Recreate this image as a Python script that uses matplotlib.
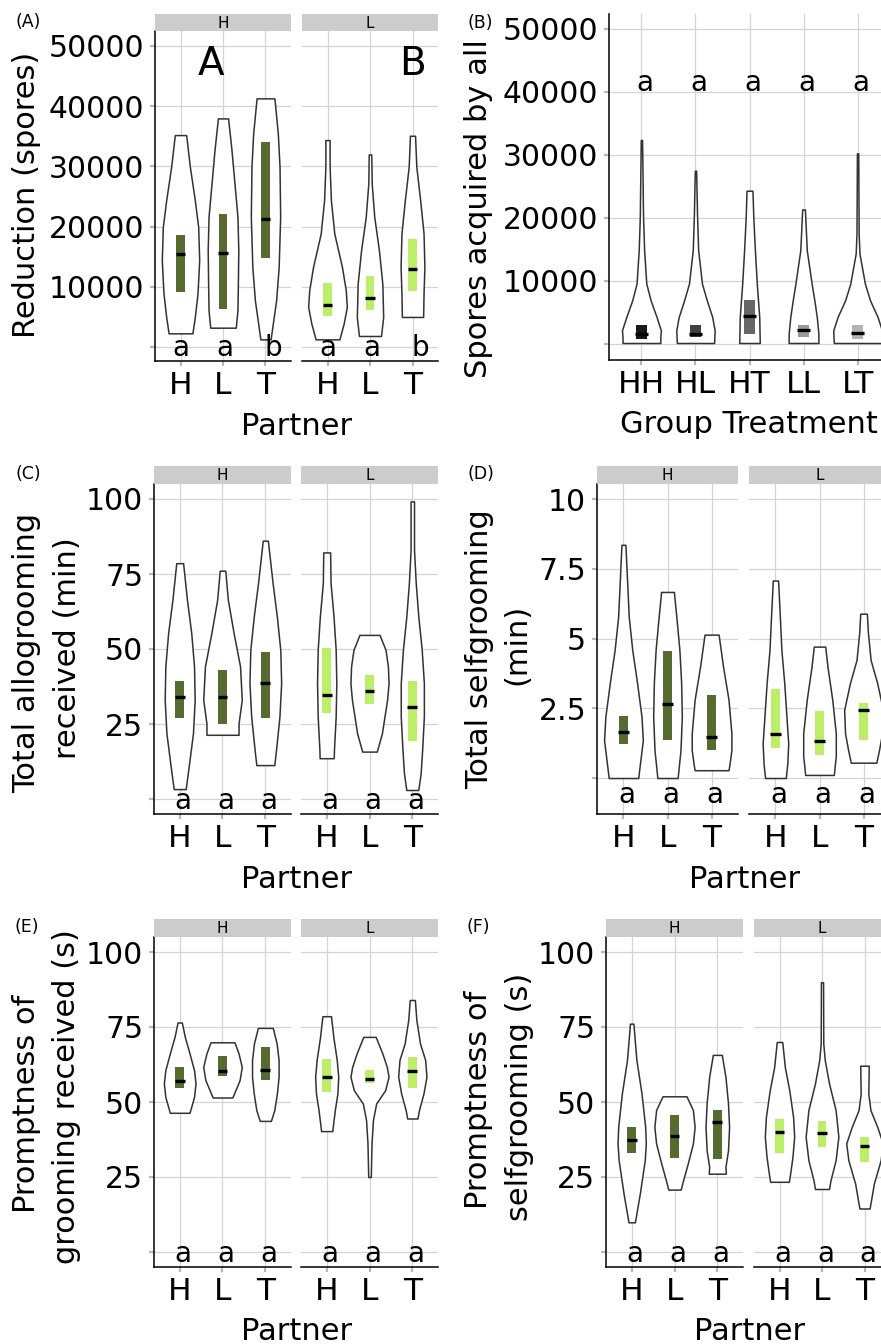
import numpy as np
import matplotlib
matplotlib.use("Agg")
import matplotlib.pyplot as plt

plt.rcParams['font.family'] = ['DejaVu Sans']

# ---------------- data ----------------
partners = ["H", "L", "T"]
groups = ["HH", "HL", "HT", "LL", "LT"]

# (A) Reduction (spores): violin outlines (value, half-width)
A_H_ys = [[2270, 4990, 8870, 14410, 19950, 24390, 29930, 35200],
          [3210, 6100, 10530, 16070, 21620, 27160, 32700, 37970],
          [1270, 7760, 13300, 21620, 29930, 35480, 41300]]
A_H_ws = [[0.28, 0.337, 0.40, 0.44, 0.416, 0.337, 0.22, 0.134],
          [0.30, 0.34, 0.35, 0.36, 0.34, 0.27, 0.20, 0.12],
          [0.12, 0.25, 0.31, 0.345, 0.33, 0.29, 0.21]]
A_H_q1 = [9150, 6260, 14800]
A_H_med = [15520, 15690, 21340]
A_H_q3 = [18570, 22060, 33980]
A_L_ys = [[1270, 3880, 6650, 9420, 13300, 18850, 24390, 29930, 34370],
          [1830, 4990, 10530, 16070, 21620, 27160, 31980],
          [4990, 8870, 13300, 18850, 24390, 29930, 35090]]
A_L_ws = [[0.28, 0.38, 0.455, 0.43, 0.34, 0.16, 0.08, 0.05, 0.05],
          [0.26, 0.31, 0.29, 0.21, 0.10, 0.04, 0.03],
          [0.25, 0.26, 0.28, 0.26, 0.18, 0.09, 0.06]]
A_L_q1 = [5150, 6100, 9260]
A_L_med = [7040, 8200, 12970]
A_L_q3 = [10700, 11750, 17900]
A_letters = ["a", "a", "b"]

# (B) Spores acquired by all
B_ys = [[160, 1110, 2170, 4290, 6940, 9590, 14890, 20190, 32380],
        [160, 2170, 4290, 6940, 9590, 14890, 20190, 27510],
        [160, 4290, 9590, 14890, 20190, 24330],
        [160, 1640, 4290, 6940, 9590, 14890, 21360],
        [160, 1110, 2170, 4290, 6940, 9590, 14360, 17540, 30260]]
B_ws = [[0.35, 0.35, 0.36, 0.28, 0.17, 0.09, 0.05, 0.03, 0.012],
        [0.345, 0.355, 0.31, 0.21, 0.12, 0.05, 0.03, 0.012],
        [0.19, 0.18, 0.135, 0.10, 0.07, 0.055],
        [0.276, 0.275, 0.245, 0.20, 0.15, 0.06, 0.025],
        [0.44, 0.445, 0.45, 0.37, 0.23, 0.135, 0.035, 0.02, 0.012]]
B_q1 = [740, 1110, 1640, 1110, 740]
B_med = [1640, 1640, 4400, 2280, 1750]
B_q3 = [2970, 2970, 6940, 2970, 2970]
B_letters = ["a", "a", "a", "a", "a"]

# (C) Total allogrooming received (min)
C_H_ys = [[3.3, 10.8, 21.9, 33, 44.2, 55.3, 66.4, 78.6],
          [21.4, 25.2, 33, 44.2, 55.3, 66.4, 76.1],
          [11.3, 16.4, 27.5, 38.6, 49.7, 60.8, 72, 86.1]]
C_H_ws = [[0.14, 0.21, 0.31, 0.35, 0.335, 0.27, 0.17, 0.08],
          [0.375, 0.375, 0.45, 0.41, 0.26, 0.125, 0.065],
          [0.21, 0.25, 0.33, 0.37, 0.35, 0.27, 0.17, 0.06]]
C_H_q1 = [27.1, 25, 27.1]
C_H_med = [34.1, 33.9, 38.8]
C_H_q3 = [39.4, 43, 49.1]
C_L_ys = [[13.6, 16.4, 27.5, 38.6, 49.7, 60.8, 72, 82.2],
          [15.8, 21.9, 27.5, 33, 38.6, 44.2, 49.7, 54.7],
          [3, 8.6, 16.4, 27.5, 38.6, 49.7, 60.8, 72, 83.1, 99.2]]
C_L_ws = [[0.165, 0.17, 0.21, 0.225, 0.21, 0.16, 0.09, 0.08],
          [0.17, 0.29, 0.35, 0.41, 0.445, 0.43, 0.375, 0.235],
          [0.14, 0.195, 0.23, 0.27, 0.27, 0.22, 0.14, 0.08, 0.04, 0.04]]
C_L_q1 = [28.8, 31.7, 19.5]
C_L_med = [34.6, 36, 30.8]
C_L_q3 = [50.4, 41.3, 39.4]

# (D) Total selfgrooming (min)
D_H_ys = [[0, 0.65, 1.36, 2.2, 3.4, 4.59, 5.79, 6.99, 8.36],
          [0, 1.0, 2.2, 3.4, 4.59, 5.79, 6.67],
          [0.28, 0.53, 1.0, 1.6, 2.8, 4.0, 5.14]]
D_H_ws = [[0.335, 0.385, 0.44, 0.41, 0.31, 0.2, 0.12, 0.085, 0.045],
          [0.23, 0.295, 0.325, 0.31, 0.27, 0.2, 0.145],
          [0.385, 0.41, 0.45, 0.45, 0.385, 0.26, 0.16]]
D_H_q1 = [1.22, 1.36, 1.0]
D_H_med = [1.65, 2.66, 1.46]
D_H_q3 = [2.22, 4.56, 2.98]
D_L_ys = [[0, 0.53, 1.24, 2.2, 3.4, 4.59, 5.79, 7.08],
          [0.11, 0.5, 0.77, 1.6, 2.8, 4.0, 4.71],
          [0.55, 1.0, 1.6, 2.44, 3.4, 4.23, 5.19, 5.89]]
D_L_ws = [[0.235, 0.27, 0.29, 0.25, 0.2, 0.135, 0.1, 0.06],
          [0.325, 0.35, 0.37, 0.37, 0.29, 0.18, 0.13],
          [0.29, 0.35, 0.42, 0.44, 0.31, 0.16, 0.1, 0.075]]
D_L_q1 = [1.09, 0.83, 1.36]
D_L_med = [1.57, 1.34, 2.44]
D_L_q3 = [3.19, 2.4, 2.68]

# (E) Promptness of grooming received (s)
E_H_ys = [[46.4, 51.7, 56.2, 60.6, 66.2, 71.7, 76.5],
          [51.5, 53.9, 57.3, 61.7, 66.2, 69.9],
          [43.7, 47.3, 52.8, 58.4, 64, 69.5, 74.7]]
E_H_ws = [[0.23, 0.335, 0.37, 0.335, 0.23, 0.12, 0.05],
          [0.23, 0.3, 0.4, 0.45, 0.375, 0.28],
          [0.13, 0.21, 0.27, 0.31, 0.31, 0.265, 0.175]]
E_H_q1 = [54.7, 58.7, 57.4]
E_H_med = [57.1, 60.5, 60.8]
E_H_q3 = [61.6, 65.5, 68.3]
E_L_ys = [[40.3, 47.3, 52.8, 58.4, 64, 71.7, 78.6],
          [25, 36.2, 43.9, 49.5, 53.9, 58.4, 61.7, 66.2, 71.7],
          [44.5, 47.3, 52.8, 58.4, 64, 69.5, 77.3, 84]]
E_L_ws = [[0.13, 0.19, 0.25, 0.27, 0.235, 0.155, 0.1],
          [0.03, 0.047, 0.08, 0.155, 0.365, 0.445, 0.405, 0.3, 0.145],
          [0.12, 0.155, 0.26, 0.33, 0.3, 0.18, 0.095, 0.06]]
E_L_q1 = [53.4, 56.4, 54.7]
E_L_med = [58.3, 57.8, 60.3]
E_L_q3 = [64.2, 60.8, 65]

# (F) Promptness of selfgrooming (s)
F_H_ys = [[9.9, 19.5, 30.6, 36.2, 41.7, 52.8, 64, 76.1],
          [20.8, 23.9, 29.5, 36.2, 41.7, 47.3, 51.9],
          [26.1, 28.4, 33.9, 41.7, 49.5, 58.4, 65.7]]
F_H_ws = [[0.075, 0.19, 0.305, 0.33, 0.315, 0.23, 0.11, 0.04],
          [0.145, 0.2, 0.31, 0.43, 0.47, 0.43, 0.28],
          [0.2, 0.19, 0.25, 0.275, 0.25, 0.19, 0.105]]
F_H_q1 = [33, 31.4, 31]
F_H_med = [37.2, 38.6, 43.2]
F_H_q3 = [41.6, 45.6, 47.2]
F_L_ys = [[23.4, 26.1, 31.7, 38.4, 45, 53.9, 61.7, 70],
          [21, 23.9, 30.6, 38.4, 47.3, 56.2, 64, 69.5, 89.9],
          [14.5, 22.8, 30.6, 36.2, 41.7, 47.3, 52.8, 62.1]]
F_L_ws = [[0.22, 0.25, 0.305, 0.345, 0.32, 0.23, 0.125, 0.065],
          [0.165, 0.2, 0.32, 0.385, 0.32, 0.165, 0.065, 0.03, 0.025],
          [0.12, 0.22, 0.38, 0.43, 0.3, 0.14, 0.09, 0.1]]
F_L_q1 = [33, 34.9, 30]
F_L_med = [40, 39.6, 35.4]
F_L_q3 = [44.5, 43.6, 38.2]

sig_letters = ["a", "a", "a"]

# ---------------- style ----------------
DARK = "#556B2F"
LIGHT = "#BCEE68"
GRAYS = ["#1A1A1A", "#404040", "#666666", "#999999", "#B3B3B3"]
GRID = "#D4D4D4"
TICKC = "#B8B8B8"
STRIP = "#CCCCCC"
FS_Y = 21.5
FS_X = 22.5
FS_T = 22
W, H = 881, 1344

fig = plt.figure(figsize=(W / 100, H / 100), dpi=100)


def add_ax(x0, x1, y0, y1):
    return fig.add_axes([x0 / W, 1 - y1 / H, (x1 - x0) / W, (y1 - y0) / H])


def strip(x0, x1, y0, y1, label):
    s = add_ax(x0, x1, y0, y1)
    s.set_facecolor(STRIP)
    s.set_xticks([]); s.set_yticks([])
    for sp in s.spines.values():
        sp.set_visible(False)
    s.text(0.5, 0.45, label, transform=s.transAxes, ha="center", va="center", fontsize=11)


def facet(ax, ys_list, ws_list, q1, med, q3, colors, letters, letter_y, letter_dx,
          ylim, yticks, yticklabels, show_y, ticklabels):
    n = len(ys_list)
    pos = np.arange(1, n + 1)
    stats = []
    for ys, ws, m in zip(ys_list, ws_list, med):
        stats.append(dict(coords=np.array(ys, float), vals=np.array(ws, float),
                          mean=m, median=m, min=ys[0], max=ys[-1]))
    widths = [2 * max(ws) for ws in ws_list]
    parts = ax.violin(stats, positions=pos, widths=widths, showmeans=False,
                      showextrema=False, showmedians=False)
    for b in parts["bodies"]:
        b.set_facecolor("white")
        b.set_edgecolor("#333333")
        b.set_alpha(1)
        b.set_linewidth(1.1)
        b.set_joinstyle("round")
        b.set_zorder(2)
    ax.bar(pos, np.array(q3) - np.array(q1), bottom=q1, width=0.2, color=colors, zorder=3)
    ax.hlines(med, pos - 0.115, pos + 0.115, color="black", lw=2.4, zorder=4)
    for p, lab, dx in zip(pos, letters, letter_dx):
        ax.text(p + dx, letter_y, lab, ha="center", va="center", fontsize=20, zorder=5)
    ax.set_xlim(0.4, n + 0.6)
    ax.set_ylim(*ylim)
    ax.set_xticks(pos)
    ax.set_xticklabels(ticklabels, fontsize=FS_X)
    ax.set_yticks(yticks)
    ax.grid(True, color=GRID, lw=0.9)
    ax.set_axisbelow(True)
    ax.tick_params(axis="x", length=3.8, width=1.6, color=TICKC, pad=3.2)
    if show_y:
        ax.set_yticklabels(yticklabels, fontsize=FS_Y)
        ax.tick_params(axis="y", length=3.8, width=1.6, color=TICKC, pad=4)
    else:
        ax.tick_params(axis="y", length=0, labelleft=False)
    ax.spines["top"].set_visible(False)
    ax.spines["right"].set_visible(False)
    ax.spines["left"].set_visible(show_y)
    for sp in ("left", "bottom"):
        ax.spines[sp].set_linewidth(1.1)
        ax.spines[sp].set_color("black")
    ax.set_facecolor("none")


# ---- (A) ----
yt_A = [0, 10000, 20000, 30000, 40000, 50000]
yl_A = ["", "10000", "20000", "30000", "40000", "50000"]
ylim_A = (-2326, 52490)
for (x0, x1), lab, ys, ws, q1, md, q3, col in [
        ((155, 291), "H", A_H_ys, A_H_ws, A_H_q1, A_H_med, A_H_q3, DARK),
        ((302, 438), "L", A_L_ys, A_L_ws, A_L_q1, A_L_med, A_L_q3, LIGHT)]:
    ax = add_ax(x0, x1, 31, 361)
    facet(ax, ys, ws, q1, md, q3, col, A_letters, -170, [0.02, 0.05, 0.19],
          ylim_A, yt_A, yl_A, lab == "H", partners)
    strip(x0, x1, 14, 31, lab)
    if lab == "H":
        ax.text(1.72, 47000, "A", ha="center", va="center", fontsize=28)
    else:
        ax.text(3.0, 47000, "B", ha="center", va="center", fontsize=28)

# ---- (B) ----
axB = add_ax(609, 890, 14, 360)
facet(axB, B_ys, B_ws, B_q1, B_med, B_q3, GRAYS, B_letters, 41500, [0.07] * 5,
      (-2540, 52380), yt_A, ["", "10000", "20000", "30000", "40000", "50000"], True, groups)

# ---- (C) ----
yt_C = [0, 25, 50, 75, 100]
yl_C = ["", "25", "50", "75", "100"]
for (x0, x1), lab, ys, ws, q1, md, q3, col in [
        ((154, 291), "H", C_H_ys, C_H_ws, C_H_q1, C_H_med, C_H_q3, DARK),
        ((301, 438), "L", C_L_ys, C_L_ws, C_L_q1, C_L_med, C_L_q3, LIGHT)]:
    ax = add_ax(x0, x1, 484, 814)
    facet(ax, ys, ws, q1, md, q3, col, sig_letters, -0.7, [0.08] * 3,
          (-5, 105), yt_C, yl_C, lab == "H", partners)
    strip(x0, x1, 466, 484, lab)

# ---- (D) ----
yt_D = [0, 2.5, 5, 7.5, 10]
yl_D = ["", "2.5", "5", "7.5", "10"]
for (x0, x1), lab, ys, ws, q1, md, q3, col in [
        ((597, 738), "H", D_H_ys, D_H_ws, D_H_q1, D_H_med, D_H_q3, DARK),
        ((749, 890), "L", D_L_ys, D_L_ws, D_L_q1, D_L_med, D_L_q3, LIGHT)]:
    ax = add_ax(x0, x1, 484, 814)
    facet(ax, ys, ws, q1, md, q3, col, sig_letters, -0.6, [0.08] * 3,
          (-1.29, 10.54), yt_D, yl_D, lab == "H", partners)
    strip(x0, x1, 466, 484, lab)

# ---- (E) ----
for (x0, x1), lab, ys, ws, q1, md, q3, col in [
        ((154, 291), "H", E_H_ys, E_H_ws, E_H_q1, E_H_med, E_H_q3, DARK),
        ((301, 438), "L", E_L_ys, E_L_ws, E_L_q1, E_L_med, E_L_q3, LIGHT)]:
    ax = add_ax(x0, x1, 937, 1267)
    facet(ax, ys, ws, q1, md, q3, col, sig_letters, -0.6, [0.08] * 3,
          (-5, 105), yt_C, yl_C, lab == "H", partners)
    strip(x0, x1, 919, 937, lab)

# ---- (F) ----
for (x0, x1), lab, ys, ws, q1, md, q3, col in [
        ((606, 743), "H", F_H_ys, F_H_ws, F_H_q1, F_H_med, F_H_q3, DARK),
        ((754, 890), "L", F_L_ys, F_L_ws, F_L_q1, F_L_med, F_L_q3, LIGHT)]:
    ax = add_ax(x0, x1, 937, 1267)
    facet(ax, ys, ws, q1, md, q3, col, sig_letters, -0.8, [0.08] * 3,
          (-5, 105), yt_C, yl_C, lab == "H", partners)
    strip(x0, x1, 919, 937, lab)


# ---- labels ----
def ftext(x, y, s, **kw):
    fig.text(x / W, 1 - y / H, s, **kw)


for tag, (x, y) in zip(["(A)", "(B)", "(C)", "(D)", "(E)", "(F)"],
                       [(28, 22), (480, 23), (28, 474), (481, 474), (27, 927), (478, 927)]):
    ftext(x, y, tag, ha="center", va="center", fontsize=12.5)

ylabel_lines = [
    ("Reduction (spores)", 27, 195),
    ("Spores acquired by all", 479, 209),
    ("Total allogrooming", 27, 653),
    ("received (min)", 67, 648),
    ("Total selfgrooming", 480, 649),
    ("(min)", 517, 644),
    ("Promptness of", 27, 1104),
    ("grooming received (s)", 67, 1097),
    ("Promptness of", 479, 1100),
    ("selfgrooming (s)", 519, 1097),
]
for s, x, y in ylabel_lines:
    ftext(x, y, s, rotation=90, ha="center", va="center", fontsize=FS_T)

ftext(297, 435, "Partner", ha="center", va="baseline", fontsize=FS_T)
ftext(749, 433, "Group Treatment", ha="center", va="baseline", fontsize=FS_T)
ftext(297, 888, "Partner", ha="center", va="baseline", fontsize=FS_T)
ftext(745, 888, "Partner", ha="center", va="baseline", fontsize=FS_T)
ftext(297, 1340, "Partner", ha="center", va="baseline", fontsize=FS_T)
ftext(750, 1340, "Partner", ha="center", va="baseline", fontsize=FS_T)

fig.savefig("out.png", dpi=100, facecolor="white")
